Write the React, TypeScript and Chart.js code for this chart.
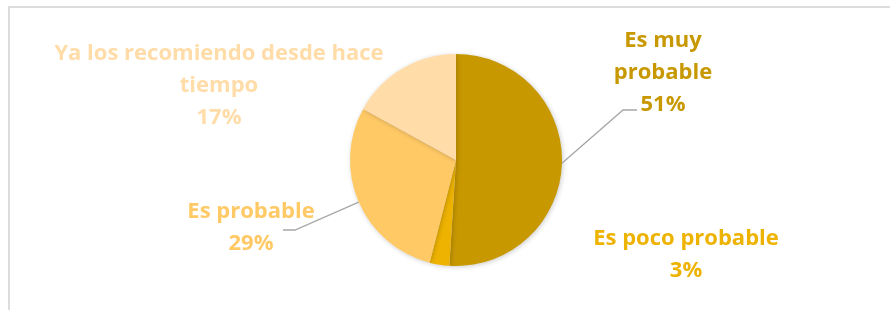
import React, { useEffect, useRef } from "react";
import { Chart, registerables } from "chart.js";

Chart.register(...registerables);

const categories = [
  "Es muy probable",
  "Es poco probable",
  "Es probable",
  "Ya los recomiendo desde hace tiempo",
];
const values = [51, 3, 29, 17];
const colors = ["#C89800", "#EEB300", "#FFC966", "#FFDCA8"];

// label layout: center x, first baseline y, wrap width, leader polyline (elbow, end) or null
const labelLayout = [
  { x: 663, y: 47, maxWidth: 120, leader: [[623, 110], [637, 110]] },
  { x: 686, y: 245, maxWidth: 260, leader: null },
  { x: 251, y: 218, maxWidth: 200, leader: [[295, 230], [283, 230]] },
  { x: 219, y: 60, maxWidth: 380, leader: null },
];

const FONT = "bold 22px 'Open Sans', Lato, sans-serif";
const LINE_H = 32;

function wrap(ctx: CanvasRenderingContext2D, text: string, maxWidth: number) {
  const words = text.split(" ");
  const lines: string[] = [];
  let cur = "";
  for (const w of words) {
    const test = cur ? cur + " " + w : w;
    if (ctx.measureText(test).width > maxWidth && cur) {
      lines.push(cur);
      cur = w;
    } else cur = test;
  }
  if (cur) lines.push(cur);
  return lines;
}

const labelPlugin = {
  id: "outLabels",
  beforeDatasetsDraw(chart: any) {
    const ctx = chart.ctx;
    ctx.save();
    ctx.shadowColor = "rgba(0,0,0,0.2)";
    ctx.shadowBlur = 5;
    ctx.shadowOffsetX = 1;
    ctx.shadowOffsetY = 1;
  },
  afterDatasetsDraw(chart: any) {
    chart.ctx.restore();
  },
  afterDraw(chart: any) {
    const ctx: CanvasRenderingContext2D = chart.ctx;
    const meta = chart.getDatasetMeta(0);
    ctx.save();
    meta.data.forEach((arc: any, i: number) => {
      const lay = labelLayout[i];
      const mid = (arc.startAngle + arc.endAngle) / 2;
      if (lay.leader) {
        const ex = arc.x + Math.cos(mid) * arc.outerRadius;
        const ey = arc.y + Math.sin(mid) * arc.outerRadius;
        ctx.beginPath();
        ctx.strokeStyle = "#A6A6A6";
        ctx.lineWidth = 1.3;
        ctx.moveTo(ex, ey);
        lay.leader.forEach((p) => ctx.lineTo(p[0], p[1]));
        ctx.stroke();
      }
      ctx.font = FONT;
      ctx.fillStyle = colors[i];
      ctx.textAlign = "center";
      ctx.textBaseline = "alphabetic";
      const lines = wrap(ctx, categories[i], lay.maxWidth);
      lines.push(values[i] + "%");
      lines.forEach((ln, k) => ctx.fillText(ln, lay.x, lay.y + k * LINE_H));
    });
    ctx.restore();
  },
};

export default function App() {
  const ref = useRef<HTMLCanvasElement>(null);
  useEffect(() => {
    if (!ref.current) return;
    const chart = new Chart(ref.current, {
      type: "pie",
      data: {
        labels: categories,
        datasets: [
          {
            data: values,
            backgroundColor: colors,
            borderWidth: 0,
          },
        ],
      },
      options: {
        animation: false,
        responsive: false,
        layout: { padding: { left: 350, right: 328, top: 54, bottom: 44 } },
        plugins: {
          legend: { display: false },
          tooltip: { enabled: false },
        },
      },
      plugins: [labelPlugin],
    });
    return () => chart.destroy();
  }, []);
  return (
    <div style={{ position: "fixed", left: 0, top: 0, width: 890, height: 310, background: "#fff", overflow: "hidden" }}>
      <div
        style={{
          position: "absolute",
          left: 8,
          top: 6,
          width: 900,
          height: 320,
          border: "2px solid #DCDCDC",
          boxSizing: "border-box",
        }}
      />
      <canvas ref={ref} width={890} height={310} style={{ position: "absolute", left: 0, top: 0 }} />
    </div>
  );
}
